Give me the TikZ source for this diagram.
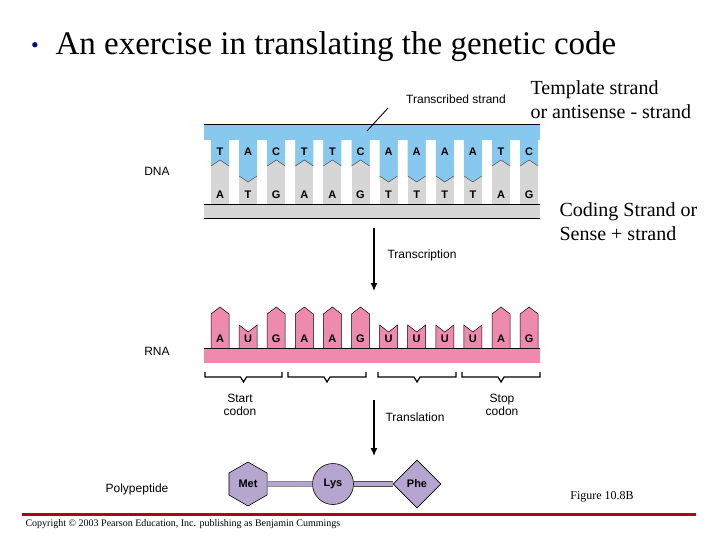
\documentclass[tikz,border=0pt]{standalone}
\usepackage{fontspec}
\setmainfont{Liberation Serif}
\newfontfamily\sansf{Liberation Sans}
\usetikzlibrary{shapes.geometric,arrows.meta}
\definecolor{dnablue}{HTML}{86C8EE}
\definecolor{dnagray}{HTML}{D6D6D6}
\definecolor{rnapink}{HTML}{EE8AAE}
\definecolor{aacol}{HTML}{B4A6CE}
\definecolor{redline}{HTML}{B0001A}
\tikzset{
  lab/.style={font=\sansf\fontsize{12}{13}\selectfont, align=center},
  base/.style={font=\sansf\bfseries\fontsize{11}{12}\selectfont},
  serifl/.style={font=\fontsize{20}{24}\selectfont, align=left},
  aa/.style={draw=black, fill=aacol, line width=0.6pt, font=\sansf\bfseries\fontsize{11}{12}\selectfont, inner sep=0pt},
  arr/.style={line width=1.3pt, -{Latex[length=8pt,width=7pt]}},
  bond/.style={draw=black!70, double=aacol, double distance=4pt, line width=0.7pt},
}
\begin{document}
\begin{tikzpicture}[x=1pt,y=-1pt]
\useasboundingbox (0,0) rectangle (720,540);
% title
\node[text=blue!50!black] (bul) at (35,48) {\fontsize{22}{22}\selectfont\textbullet};
\node[anchor=west] (title) at (52,47) {\fontsize{33}{36}\selectfont An exercise in translating the genetic code};
% DNA
\fill[dnablue] (204,124) rectangle (540,140);
\fill[dnagray] (204,204) rectangle (540,218);
\draw[line width=0.8pt] (204,124) -- (540,124);
\draw[line width=0.8pt] (204,204) -- (540,204);
\draw[line width=0.8pt] (204,218) -- (540,218);
\foreach \t/\b [count=\i from 0] in {T/A,A/T,C/G,T/A,T/A,C/G,A/T,A/T,A/T,A/T,T/A,C/G}{
  \pgfmathsetmacro{\cx}{220+28.1*\i}
  \ifnum\pdfstrcmp{\t}{A}=0 \def\e{176}\def\m{182}\else\ifnum\pdfstrcmp{\t}{G}=0 \def\e{176}\def\m{182}\else\def\e{166}\def\m{160}\fi\fi
  \fill[dnagray] (\cx-9,140) rectangle (\cx+9,204);
  \fill[dnablue] (\cx-9,140) -- (\cx-9,\e) -- (\cx,\m) -- (\cx+9,\e) -- (\cx+9,140) -- cycle;
  \draw[line width=0.5pt, black!70] (\cx-9,\e) -- (\cx,\m) -- (\cx+9,\e);
  \node[base] (t\i) at (\cx,152) {\t};
  \node[base] (b\i) at (\cx,195) {\b};
}
\node[lab] (dna) at (157,171) {DNA};
\node[lab] (ts) at (456,99) {Transcribed strand};
\coordinate (tsl) at (367,131);
\draw[line width=0.9pt] (388,108) -- (tsl);
\node[serifl, anchor=west] (tmpl) at (527,100) {Template strand\\ or antisense - strand};
\node[serifl, anchor=west] (cod) at (556,222) {Coding Strand or\\Sense + strand};
% transcription
\node[lab, anchor=west] (trl) at (384,255) {Transcription};
\coordinate (ta) at (374,228);
\coordinate (tb) at (374,291);
\draw[arr] (ta) -- (tb);
% RNA
\fill[rnapink] (204,348) rectangle (540,363);
\draw[line width=0.8pt] (204,348) -- (540,348);
\foreach \r [count=\i from 0] in {A,U,G,A,A,G,U,U,U,U,A,G}{
  \pgfmathsetmacro{\cx}{220+28.1*\i}
  \ifnum\pdfstrcmp{\r}{U}=0
    \filldraw[fill=rnapink, draw=black, line width=0.5pt] (\cx-9,348) -- (\cx-9,325) -- (\cx,332) -- (\cx+9,325) -- (\cx+9,348);
  \else
    \filldraw[fill=rnapink, draw=black, line width=0.5pt] (\cx-9,348) -- (\cx-9,314) -- (\cx,307) -- (\cx+9,314) -- (\cx+9,348);
  \fi
  \node[base] (r\i) at (\cx,339) {\r};
}
\node[lab] (rna) at (157,351) {RNA};
% brackets
\foreach \a/\b [count=\j] in {205/282,288/366,378/456,462/540}{
  \draw[line width=1.2pt] (\a,372) -- (\a,377) -- ({(\a+\b)/2-3},377) -- ({(\a+\b)/2},382) -- ({(\a+\b)/2+3},377) -- (\b,377) -- (\b,372);
}
\node[lab] (start) at (240,405) {Start\\codon};
\node[lab] (stop) at (502,405) {Stop\\codon};
\node[lab, anchor=west] (tll) at (382,417) {Translation};
\coordinate (la) at (374,400);
\coordinate (lb) at (374,456);
\draw[arr] (la) -- (lb);
% polypeptide
\node[lab] (poly) at (137,489) {Polypeptide};
\node[aa, regular polygon, regular polygon sides=6, minimum size=44pt, shape border rotate=90] (met) at (248,484) {Met};
\node[aa, circle, minimum size=41pt] (lys) at (333,484) {Lys};
\node[aa, diamond, minimum width=48pt, minimum height=48pt] (phe) at (417,484) {Phe};
\draw[bond] (met) -- (lys);
\draw[bond] (lys) -- (phe);
% red line
\draw[redline, line width=3pt] (22,514) -- (696,514);
\node[font=\fontsize{12}{13}\selectfont] (fig) at (602,497) {Figure 10.8B};
\node[font=\fontsize{10}{11}\selectfont, anchor=west] (copy) at (22,524) {Copyright © 2003 Pearson Education, Inc. publishing as Benjamin Cummings};
\end{tikzpicture}
\end{document}
